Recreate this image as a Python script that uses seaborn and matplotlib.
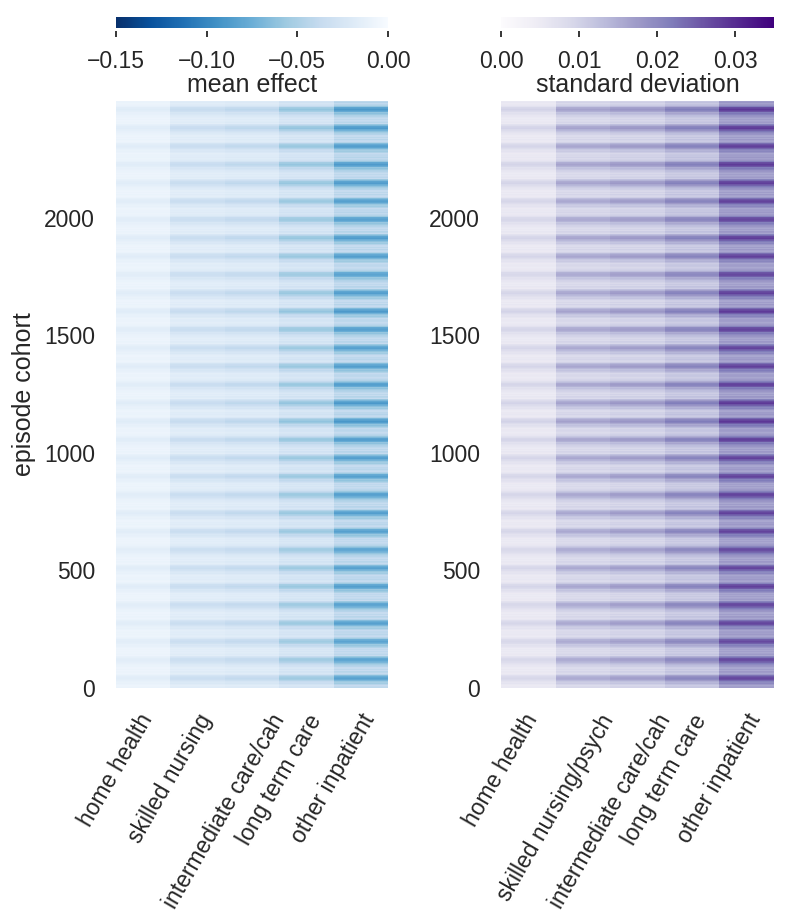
import numpy as np
import pandas as pd
import matplotlib
matplotlib.use("Agg")
import matplotlib.pyplot as plt
import seaborn as sns

# ---------------- data ----------------
categories_mean = ["home health", "skilled nursing", "intermediate care/cah",
                   "long term care", "other inpatient"]
categories_sd = ["home health", "skilled nursing/psych", "intermediate care/cah",
                 "long term care", "other inpatient"]

# lightest / darkest mean effect per column
mean_light = [-0.007, -0.013, -0.014, -0.019, -0.031]
mean_dark = [-0.017, -0.035, -0.040, -0.058, -0.086]
# lightest / darkest standard deviation per column
sd_light = [0.0045, 0.0075, 0.0080, 0.0095, 0.0145]
sd_dark = [0.0095, 0.0160, 0.0175, 0.0210, 0.0280]

# stripe profile inside one repeating block of cohorts (bottom -> top, 3 cohorts per step)
cycle_profile = [0.20, 0.10, 0.18, 0.12, 0.26, 0.30, 0.45, 0.40, 0.55, 0.50,
                 0.72, 0.80, 0.92, 1.00, 0.95, 0.90, 0.85, 0.65, 0.48, 0.28,
                 0.12, 0.22, 0.15, 0.25, 0.10, 0.18]
cohorts_per_step = 3
# stripe strength of each block, bottom -> top
cycle_strength = [0.95, 0.97, 0.93, 0.96, 0.98, 1.00, 0.97, 0.95, 0.98, 1.00,
                  1.02, 0.98, 1.00, 1.05, 1.08, 1.06, 1.04, 1.00, 0.98, 1.02,
                  1.05, 1.00, 0.97, 1.00, 1.03, 1.00, 0.98, 1.02, 1.04, 1.00,
                  1.05, 1.07]

ytick_values = [0, 500, 1000, 1500, 2000]
mean_ticks = [-0.15, -0.10, -0.05, 0.00]
sd_ticks = [0.00, 0.01, 0.02, 0.03]

# ---------------- build tables ----------------
shape = np.concatenate([np.repeat(cycle_profile, cohorts_per_step) * s
                        for s in cycle_strength])
cohort = np.arange(len(shape))
ml, md = np.array(mean_light), np.array(mean_dark)
sl, sdk = np.array(sd_light), np.array(sd_dark)
df_mean = pd.DataFrame(ml[None, :] + np.outer(shape, md - ml),
                       index=cohort, columns=categories_mean)
df_sd = pd.DataFrame(sl[None, :] + np.outer(shape, sdk - sl),
                     index=cohort, columns=categories_sd)

# ---------------- figure ----------------
sns.set_theme(style="white")
plt.rcParams['font.family'] = ['Liberation Sans', 'DejaVu Sans']
TXT = '#262626'

W, H = 790, 921
fig = plt.figure(figsize=(W / 100, H / 100), dpi=100)


def box(x0, y0, x1, y1):
    return [x0 / W, 1 - y1 / H, (x1 - x0) / W, (y1 - y0) / H]


ax1 = fig.add_axes(box(116, 101, 388, 688))
ax2 = fig.add_axes(box(501, 101, 774, 688))
cax1 = fig.add_axes(box(116, 17, 388, 28))
cax2 = fig.add_axes(box(501, 17, 774, 28))

sns.heatmap(df_mean, ax=ax1, cmap="Blues_r", vmin=-0.15, vmax=0.0,
            cbar_ax=cax1, cbar_kws=dict(orientation="horizontal", ticks=mean_ticks),
            xticklabels=True, yticklabels=False, rasterized=True)
sns.heatmap(df_sd, ax=ax2, cmap="Purples", vmin=0.0, vmax=0.035,
            cbar_ax=cax2, cbar_kws=dict(orientation="horizontal", ticks=sd_ticks),
            xticklabels=True, yticklabels=False, rasterized=True)

for ax, cats in [(ax1, categories_mean), (ax2, categories_sd)]:
    ax.invert_yaxis()
    ax.set_yticks(np.array(ytick_values) + 0.5)
    ax.set_yticklabels([str(v) for v in ytick_values], rotation=0)
    ax.set_xticks(np.arange(len(cats)))
    ax.set_xticklabels(cats, rotation=60, ha='center')
    ax.tick_params(axis='y', length=0, pad=15, labelsize=16.5, labelcolor=TXT)
    ax.tick_params(axis='x', length=0, pad=16, labelsize=16.5, labelcolor=TXT)
    ax.set_xlabel('')
    ax.set_ylabel('')

ax1.set_ylabel('episode cohort', fontsize=18, color=TXT, labelpad=6)

for cax, label in [(cax1, 'mean effect'), (cax2, 'standard deviation')]:
    cax.xaxis.set_ticks_position('bottom')
    cax.spines['bottom'].set_position(('outward', 2.5))
    cax.tick_params(axis='x', length=4, width=1.3, color=TXT, pad=9,
                    labelsize=16.5, labelcolor=TXT)
    cax.set_xlabel(label, fontsize=18, color=TXT, labelpad=0)

fig.savefig("out.png", dpi=100)
